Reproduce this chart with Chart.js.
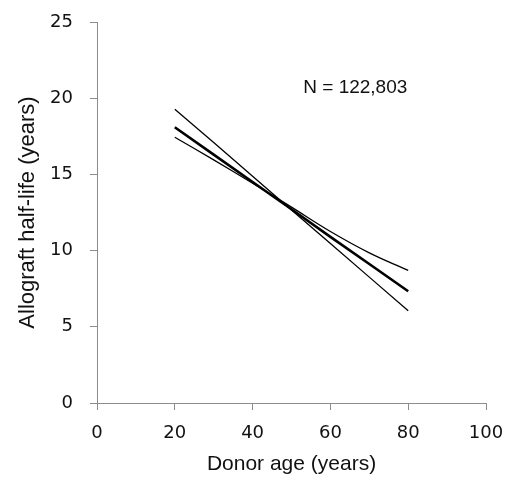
<!DOCTYPE html>
<html>
<head>
<meta charset="utf-8">
<script src="https://cdn.jsdelivr.net/npm/chart.js@4"></script>
<style>
  html, body { margin: 0; padding: 0; background: #fff; }
  #wrap { width: 505px; height: 477px; }
</style>
</head>
<body>
<div id="wrap"><canvas id="chart"></canvas></div>
<script>
'use strict';

/* ── DATOS ── */
var ages      = [20, 30, 40, 50, 60, 70, 80];
var halfLife  = [18.09, 16.3, 14.5, 12.71, 10.9, 9.12, 7.33];
var ciSteep   = [19.28, 17.1, 14.88, 12.66, 10.46, 8.26, 6.06];
var ciFlat    = [17.44, 15.95, 14.42, 12.85, 11.25, 9.85, 8.7];
var xTicks    = [0, 20, 40, 60, 80, 100];
var yTicks    = [0, 5, 10, 15, 20, 25];
var noteText  = 'N = 122,803';
var notePos   = [66.4, 20.7];

function pts(ys){
  return ages.map(function(a, i){ return { x: a, y: ys[i] }; });
}

/* ── NOTA N ── */
var notePlugin = {
  id: 'note',
  afterDatasetsDraw: function(chart){
    var ctx = chart.ctx;
    var px = chart.scales.x.getPixelForValue(notePos[0]);
    var py = chart.scales.y.getPixelForValue(notePos[1]);
    ctx.save();
    ctx.font = '19px "Liberation Sans", Arial, sans-serif';
    ctx.fillStyle = '#111';
    ctx.textAlign = 'center';
    ctx.textBaseline = 'middle';
    ctx.fillText(noteText, px, py);
    ctx.restore();
  }
};

var axisGrey = '#8c8c8c';
var tickFont = { family: '"DejaVu Sans", Verdana, sans-serif', size: 18 };
var titleFont = { family: '"Liberation Sans", Arial, sans-serif', size: 21 };

function lineDs(ys, w, t){
  return { data: pts(ys), borderColor: '#000', borderWidth: w, pointRadius: 0,
           tension: t, fill: false };
}

new Chart(document.getElementById('chart'), {
  type: 'line',
  data: {
    datasets: [ lineDs(ciSteep, 1.3, 0), lineDs(ciFlat, 1.3, 0.4), lineDs(halfLife, 2.6, 0) ]
  },
  options: {
    responsive: true,
    maintainAspectRatio: false,
    animation: false,
    layout: { padding: { top: 22, right: 19, left: 15, bottom: 0 } },
    plugins: { legend: { display: false }, tooltip: { enabled: false } },
    scales: {
      x: {
        type: 'linear',
        min: 0, max: 100,
        afterBuildTicks: function(s){ s.ticks = xTicks.map(function(v){ return { value: v }; }); },
        afterFit: function(s){ s.height = 74; s.paddingLeft = 0; s.paddingRight = 0; },
        border: { color: axisGrey, width: 1 },
        grid: { drawOnChartArea: false, color: axisGrey, tickLength: 7 },
        ticks: { color: '#111', font: tickFont, padding: 13, maxRotation: 0 },
        title: { display: true, text: 'Donor age (years)', color: '#111', font: titleFont, padding: { top: 4, bottom: 0 } }
      },
      y: {
        type: 'linear',
        min: 0, max: 25,
        afterBuildTicks: function(s){ s.ticks = yTicks.map(function(v){ return { value: v }; }); },
        afterFit: function(s){ s.width = 82; s.paddingTop = 0; s.paddingBottom = 0; },
        border: { color: axisGrey, width: 1 },
        grid: { drawOnChartArea: false, color: axisGrey, tickLength: 7 },
        ticks: { color: '#111', font: tickFont, padding: 17 },
        title: { display: true, text: 'Allograft half-life (years)', color: '#111',
                 font: { family: titleFont.family, size: 22 }, padding: { top: 0, bottom: 4 } }
      }
    }
  },
  plugins: [notePlugin]
});
</script>
</body>
</html>
